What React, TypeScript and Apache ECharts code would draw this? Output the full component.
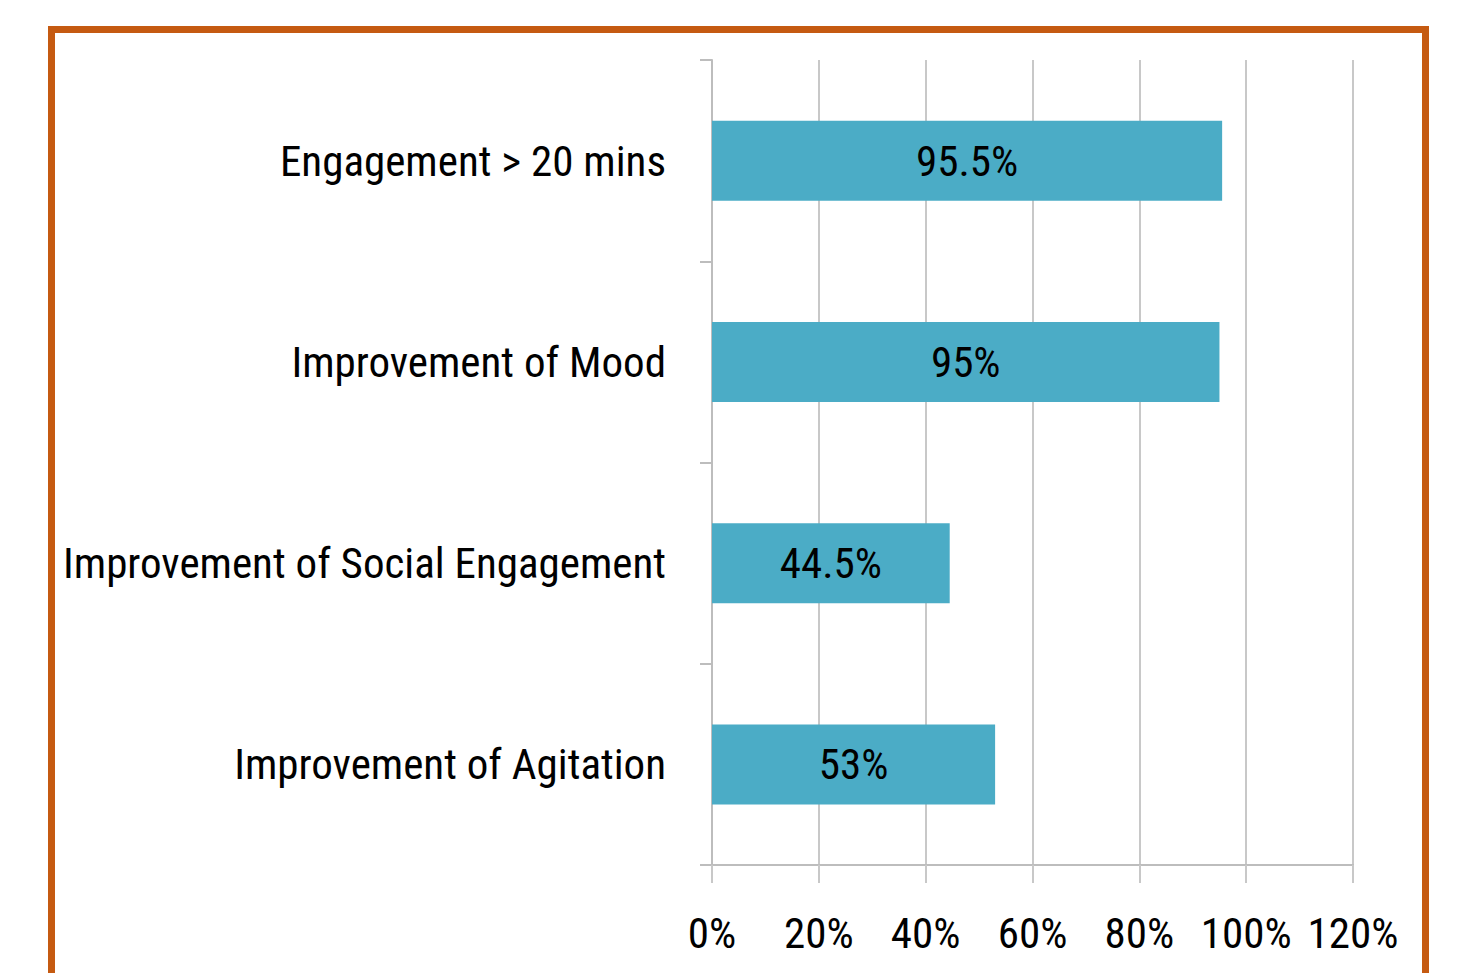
import React, { useEffect, useRef } from "react";
import * as echarts from "echarts";

const categories = [
  "Engagement > 20 mins",
  "Improvement of Mood",
  "Improvement of Social Engagement",
  "Improvement of Agitation",
];
const values = [95.5, 95, 44.5, 53];
const valueLabels = ["95.5%", "95%", "44.5%", "53%"];
const xTicks = [0, 20, 40, 60, 80, 100, 120];

const FONT = "'Roboto Condensed', 'Liberation Sans', sans-serif";

export default function App() {
  const ref = useRef<HTMLDivElement>(null);
  useEffect(() => {
    if (!ref.current) return;
    const chart = echarts.init(ref.current, undefined, { renderer: "svg" });
    chart.setOption({
      animation: false,
      backgroundColor: "#ffffff",
      grid: {
        left: 712,
        right: 104,
        top: 60,
        bottom: 108,
        containLabel: false,
        outerBoundsMode: "none",
      },
      xAxis: {
        type: "value",
        min: xTicks[0],
        max: xTicks[xTicks.length - 1],
        interval: 20,
        axisLine: { show: true, lineStyle: { color: "#bdbdbd", width: 2 } },
        axisTick: { show: true, length: 18, lineStyle: { color: "#c8c8c8", width: 2 } },
        splitLine: { show: true, lineStyle: { color: "#c8c8c8", width: 2 } },
        axisLabel: {
          formatter: (v: number) => `${v}%`,
          fontFamily: FONT,
          fontSize: 43,
          color: "#000",
          margin: 46,
          showMinLabel: true,
          showMaxLabel: true,
          hideOverlap: false,
        },
      },
      yAxis: {
        type: "category",
        data: categories,
        inverse: true,
        axisLine: { show: true, lineStyle: { color: "#bdbdbd", width: 2 } },
        axisTick: { show: true, length: 12, lineStyle: { color: "#bdbdbd", width: 2 } },
        axisLabel: {
          fontFamily: FONT,
          fontSize: 43,
          color: "#000",
          margin: 46,
          interval: 0,
        },
      },
      series: [
        {
          type: "bar",
          data: values,
          barWidth: 80,
          itemStyle: { color: "#4BACC6" },
          label: {
            show: true,
            position: "inside",
            formatter: (p: any) => valueLabels[p.dataIndex],
            fontFamily: FONT,
            fontSize: 43,
            color: "#000",
          },
        },
      ],
      graphic: [
        {
          type: "rect",
          shape: { x: 51.5, y: 29.5, width: 1374, height: 1000 },
          style: { fill: "none", stroke: "#C55A11", lineWidth: 7 },
          silent: true,
          z: 100,
        },
      ],
    });
    return () => chart.dispose();
  }, []);
  return (
    <div
      ref={ref}
      style={{ position: "fixed", left: 0, top: 0, width: 1457, height: 973 }}
    />
  );
}
